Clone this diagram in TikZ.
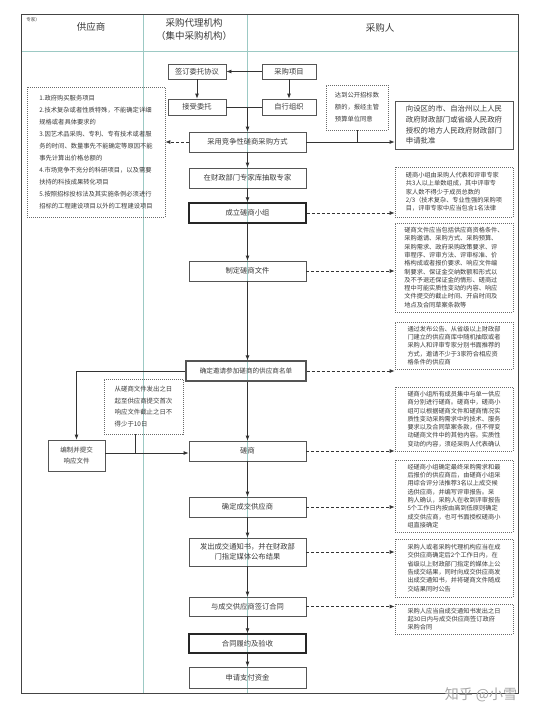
\documentclass[tikz,border=0pt]{standalone}
\usepackage{fontspec}
\setmainfont{Noto Sans CJK SC}
\usetikzlibrary{arrows.meta,calc}
\definecolor{boxgray}{HTML}{555555}
\definecolor{txtgray}{HTML}{3A3A3A}
\definecolor{notegray}{HTML}{6A6A6A}
\definecolor{divteal}{HTML}{9CC9C4}
\definecolor{framegray}{HTML}{444444}
\begin{document}
\begin{tikzpicture}[x=1pt,y=-1pt,
  box/.style={draw=boxgray,line width=0.8pt,inner sep=0pt,text=txtgray,
    font=\fontsize{7.3}{10}\selectfont,align=center},
  mainbox/.style={box,minimum width=117,minimum height=20},
  thickbox/.style={line width=1.5pt,draw=black!85},
  note/.style={draw=notegray,line width=0.7pt,dash pattern=on 1pt off 1pt,
    inner sep=0pt,text=txtgray,font=\fontsize{6.2}{8.3}\selectfont,align=left},
  rnote/.style={note,minimum width=118},
  arr/.style={draw=black!80,line width=0.8pt,-{Latex[length=5pt,width=4pt]}},
  darr/.style={arr,dash pattern=on 3pt off 2pt},
  link/.style={draw=black!80,line width=0.8pt},
  hdr/.style={text=txtgray,font=\fontsize{9.5}{13}\selectfont,align=center}
]
\useasboundingbox (0,0) rectangle (539,717);
% frame and lanes
\draw[divteal,line width=0.6pt] (143,15) -- (143,693);
\draw[divteal,line width=0.6pt] (247,15) -- (247,693);
\draw[divteal,line width=0.6pt] (21,51) -- (518,51);
\draw[framegray,line width=1pt] (21,15) rectangle (518,693);
% header
\node[text=txtgray,font=\fontsize{4.5}{5}\selectfont] (tag) at (33,20) {专家）};
\node[hdr] (h1) at (91,27) {供应商};
\node[hdr] (h2) at (194,29) {采购代理机构\\（集中采购机构）};
\node[hdr] (h3) at (380,28) {采购人};
% top boxes
\node[box,minimum width=58,minimum height=15] (m1) at (197,71.5) {签订委托协议};
\node[box,minimum width=54,minimum height=15] (m2) at (289,71.5) {采购项目};
\node[box,minimum width=58,minimum height=16] (m3) at (197,107) {接受委托};
\node[box,minimum width=54,minimum height=16] (m4) at (289,107) {自行组织};
% main flow
\node[mainbox] (m5) at (247.5,142) {采用竞争性磋商采购方式};
\node[mainbox] (m6) at (247.5,178) {在财政部门专家库抽取专家};
\node[mainbox,thickbox] (m7) at (247.5,213) {成立磋商小组};
\node[mainbox] (m8) at (247.5,271) {制定磋商文件};
\node[mainbox,minimum width=120,line width=1.1pt,font=\fontsize{6.6}{9}\selectfont] (m9) at (246,371) {确定邀请参加磋商的供应商名单};
\node[mainbox] (m10) at (247.5,451) {磋商};
\node[mainbox] (m11) at (247.5,507) {确定成交供应商};
\node[mainbox,minimum height=28] (m12) at (247.5,552) {发出成交通知书，并在财政部\\门指定媒体公布结果};
\node[mainbox,minimum height=19] (m13) at (247.5,606.5) {与成交供应商签订合同};
\node[mainbox,thickbox,minimum height=19] (m14) at (247.5,643.5) {合同履约及验收};
\node[mainbox,minimum height=21] (m15) at (247.5,677.5) {申请支付资金};
% left side
\node[note,minimum width=138,minimum height=130,font=\fontsize{6.3}{12}\selectfont] (L1) at (96,152) {1.政府购买服务项目\\2.技术复杂或者性质特殊，不能确定详细\\规格或者具体要求的\\3.因艺术品采购、专利、专有技术或者服\\务的时间、数量事先不能确定等原因不能\\事先计算出价格总额的\\4.市场竞争不充分的科研项目，以及需要\\扶持的科技成果转化项目\\5.按照招标投标法及其实施条例必须进行\\招标的工程建设项目以外的工程建设项目};
\node[note,minimum width=79,minimum height=55,font=\fontsize{6.4}{11.5}\selectfont] (L2) at (143.5,406.5) {从磋商文件发出之日\\起至供应商提交首次\\响应文件截止之日不\\得少于10日};
\node[box,minimum width=57,minimum height=31,font=\fontsize{6.5}{11}\selectfont] (L3) at (76.5,455.5) {编制并提交\\响应文件};
% right side
\node[note,minimum width=62,minimum height=45,font=\fontsize{6.3}{12}\selectfont] (n1) at (357,107.5) {达到公开招标数\\额的，报经主管\\预算单位同意};
\node[box,minimum width=118,minimum height=48,align=left,font=\fontsize{7.4}{10.7}\selectfont] (n2) at (454,125) {向设区的市、自治州以上人民\\政府财政部门或省级人民政府\\授权的地方人民政府财政部门\\申请批准};
\node[rnote,minimum height=50] (n3) at (454,192) {磋商小组由采购人代表和评审专家\\共3人以上单数组成，其中评审专\\家人数不得少于成员总数的\\2/3（技术复杂、专业性强的采购项\\目，评审专家中应当包含1名法律};
\node[rnote,minimum height=89] (n4) at (454,267.5) {磋商文件应当包括供应商资格条件、\\采购邀请、采购方式、采购预算、\\采购需求、政府采购政策要求、评\\审程序、评审方法、评审标准、价\\格构成或者报价要求、响应文件编\\制要求、保证金交纳数额和形式以\\及不予退还保证金的情形、磋商过\\程中可能实质性变动的内容、响应\\文件提交的截止时间、开启时间及\\地点及合同草案条款等};
\node[rnote,minimum height=47] (n5) at (454,345.5) {通过发布公告、从省级以上财政部\\门建立的供应商库中随机抽取或者\\采购人和评审专家分别书面推荐的\\方式，邀请不少于3家符合相应资\\格条件的供应商};
\node[rnote,minimum height=64] (n6) at (454,419) {磋商小组所有成员集中与单一供应\\商分别进行磋商。磋商中，磋商小\\组可以根据磋商文件和磋商情况实\\质性变动采购需求中的技术、服务\\要求以及合同草案条款，但不得变\\动磋商文件中的其他内容。实质性\\变动的内容，须经采购人代表确认};
\node[rnote,minimum height=72] (n7) at (454,496) {经磋商小组确定最终采购需求和最\\后报价的供应商后，由磋商小组采\\用综合评分法推荐3名以上成交候\\选供应商，并编写评审报告。采\\购人确认，采购人在收到评审报告\\5个工作日内按由高到低原则确定\\成交供应商，也可书面授权磋商小\\组直接确定};
\node[rnote,minimum height=58] (n8) at (454,568) {采购人或者采购代理机构应当在成\\交供应商确定后2个工作日内，在\\省级以上财政部门指定的媒体上公\\告成交结果，同时向成交供应商发\\出成交通知书，并将磋商文件随成\\交结果同时公告};
\node[rnote,minimum height=30] (n9) at (454,619) {采购人应当自成交通知书发出之日\\起30日内与成交供应商签订政府\\采购合同};
% connectors top
\draw[arr] (m2) -- (m1);
\draw[arr] (m1) -- (m3);
\draw[arr] (m2) -- (m4);
\draw[link] (m3) -- (m4);
\coordinate (j0) at (247.5,107);
\draw[arr] (j0) -- (m5);
\draw[darr] (m5.west) -- (m5.west -| L1.east);
\draw[arr] (m5.east) -- (m5.east -| n2.west);
\draw[link] (n1.south) -- (n1.south |- m5.east);
% spine
\draw[arr] (m5) -- (m6);
\draw[arr] (m6) -- (m7);
\draw[arr] (m7) -- (m8);
\draw[arr] (m8) -- (m9.north -| m8.south);
\draw[arr] (m9.south -| m10.north) -- (m10);
\draw[arr] (m10) -- (m11);
\draw[arr] (m11) -- (m12);
\draw[arr] (m12) -- (m13);
\draw[arr] (m13) -- (m14);
\draw[arr] (m14) -- (m15);
% dashed to notes
\draw[darr] (m7.east) -- (m7.east -| n3.west);
\draw[darr] (m8.east) -- (m8.east -| n4.west);
\draw[darr] (m9.east) -- (m9.east -| n5.west);
\draw[darr] (m10.east) -- (m10.east -| n6.west);
\draw[darr] (m11.east) -- (m11.east -| n7.west);
\draw[darr] (m12.east) -- (m12.east -| n8.west);
\draw[darr] (m13.east) -- (m13.east -| n9.west);
% left branch
\draw[arr] (m9.west) -| (L3.north);
\coordinate (j1) at (135,453);
\draw[arr] (L3.east |- j1) -- (m10.west |- j1);
\draw[link] (L2.south -| j1) -- (j1);
% watermark
\node[text=black!35,font=\fontsize{14}{16}\selectfont] (wm) at (481,695) {知乎 @小雪};
\end{tikzpicture}
\end{document}
